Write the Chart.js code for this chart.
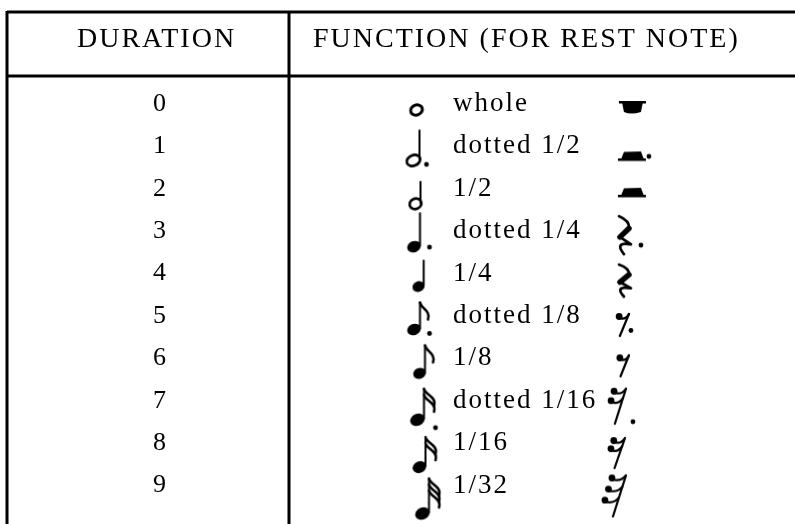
<!DOCTYPE html>
<html>
<head>
<meta charset="utf-8">
<script src="https://cdn.jsdelivr.net/npm/chart.js@4.4.1/dist/chart.umd.min.js"></script>
<style>
  body { margin: 0; background: #fff; }
</style>
</head>
<body>
<canvas id="table1" width="795" height="524"></canvas>
<script>
// table contents
const headers = ['DURATION', 'FUNCTION (FOR REST NOTE)'];
const durations = ['0', '1', '2', '3', '4', '5', '6', '7', '8', '9'];
const functions = ['whole', 'dotted 1/2', '1/2', 'dotted 1/4', '1/4', 'dotted 1/8', '1/8', 'dotted 1/16', '1/16', '1/32'];
const noteValues = [1, 2, 2, 4, 4, 8, 8, 16, 16, 32];
const dotted = [false, true, false, true, false, true, false, true, false, false];

const serif = '"Liberation Serif", "Times New Roman", serif';

// column positions on the hidden x scale
const cols = { note: 131, label: 166, rest: 346 };

// drawing geometry of each glyph, relative to its point
const noteShape = [
    { hx: -2, hy: 6, rx: 6, ry: 5 },
    { hx: -5, hy: 14, rx: 7, ry: 5.2, top: -16, dx: 8, dy: 18 },
    { hx: -3, hy: 15, rx: 6, ry: 5.2, top: -7 },
    { hx: -4.5, hy: 15.5, rx: 7, ry: 5.6, top: -18, dx: 11, dy: 16 },
    { hx: 0, hy: 13, rx: 6.2, ry: 5.2, top: -13 },
    { hx: -4.5, hy: 13.5, rx: 7, ry: 5.6, top: -13.5, dx: 11, dy: 17.5 },
    { hx: 1, hy: 15, rx: 6.5, ry: 5.4, top: -13 },
    { hx: -1, hy: 19, rx: 7.5, ry: 6, top: -12, dx: 17, dy: 27 },
    { hx: 1, hy: 24, rx: 7, ry: 5.8, top: -6 },
    { hx: 4, hy: 28, rx: 7.5, ry: 6, top: -7 }
];
const restShape = [
    { x0: -12, x1: 15, y: -2 },
    { x0: -13, x1: 15, y: 12, dx: 18, dy: 10 },
    { x0: -13, x1: 15, y: 6 },
    { x0: -18, y0: -15, w: 20, h: 38, dx: 10, dy: 14 },
    { x0: -18, y0: -9, w: 20, h: 32 },
    { x0: -16, y0: -2, w: 14, h: 22, dx: 0, dy: 14.5 },
    { x0: -15, y0: -3, w: 13, h: 21 },
    { x0: -22, y0: -12, w: 17, h: 35, dx: 2, dy: 21 },
    { x0: -22, y0: -5, w: 16, h: 30 },
    { x0: -25, y0: -10, w: 20, h: 41 }
];

function makeGlyph(w, h, draw) {
    const c = document.createElement('canvas');
    c.width = w;
    c.height = h;
    const g = c.getContext('2d');
    g.translate(w / 2, h / 2);
    g.fillStyle = '#000';
    g.strokeStyle = '#000';
    g.lineCap = 'round';
    g.lineJoin = 'round';
    draw(g);
    return c;
}

function dot(g, x, y, r) {
    g.beginPath();
    g.arc(x, y, r, 0, Math.PI * 2);
    g.fill();
}

function line(g, x1, y1, x2, y2, lw) {
    g.lineWidth = lw;
    g.beginPath();
    g.moveTo(x1, y1);
    g.lineTo(x2, y2);
    g.stroke();
}

function drawNote(g, i) {
    const s = noteShape[i];
    const v = noteValues[i];
    g.beginPath();
    g.ellipse(s.hx, s.hy, s.rx, s.ry, -0.4, 0, Math.PI * 2);
    if (v >= 4) {
        g.fill();
    } else {
        g.lineWidth = v === 1 ? 3 : 2.7;
        g.stroke();
    }
    if (v >= 2) {
        const sx = s.hx + s.rx - 1;
        line(g, sx, s.top, sx, s.hy - 1, 2);
        const flags = v >= 8 ? Math.log2(v) - 2 : 0;
        const wide = flags > 1 ? 13 : 11;
        for (let k = 0; k < flags; k++) {
            const fy = s.top + k * 6;
            g.lineWidth = 2.5;
            g.beginPath();
            g.moveTo(sx, fy);
            g.bezierCurveTo(sx + 1, fy + 6, sx + wide, fy + 8, sx + wide - 3, fy + 17);
            g.stroke();
        }
    }
    if (dotted[i]) dot(g, s.dx, s.dy, 2.4);
}

function drawRest(g, i) {
    const s = restShape[i];
    const v = noteValues[i];
    if (v === 1) {
        g.fillRect(s.x0, s.y - 1, s.x1 - s.x0, 2.5);
        g.beginPath();
        g.moveTo(s.x0 + 3, s.y);
        g.lineTo(s.x1 - 3, s.y);
        g.lineTo(s.x1 - 5, s.y + 10);
        g.quadraticCurveTo(s.x0 + 12, s.y + 13, s.x0 + 5, s.y + 10);
        g.closePath();
        g.fill();
    } else if (v === 2) {
        g.fillRect(s.x0, s.y, s.x1 - s.x0, 2.5);
        g.beginPath();
        g.moveTo(s.x0 + 3, s.y + 1);
        g.lineTo(s.x0 + 6, s.y - 6.5);
        g.lineTo(s.x1 - 5, s.y - 7);
        g.lineTo(s.x1 - 2, s.y + 1);
        g.closePath();
        g.fill();
    } else if (v === 4) {
        const P = (u, w) => [s.x0 + u * s.w, s.y0 + w * s.h];
        g.lineWidth = 2.6;
        g.beginPath();
        g.moveTo(...P(0.3, 0));
        g.quadraticCurveTo(...P(0.85, 0.12), ...P(0.8, 0.32));
        g.stroke();
        line(g, ...P(0.8, 0.32), ...P(0.35, 0.55), 5.5);
        g.lineWidth = 2.8;
        g.beginPath();
        g.moveTo(...P(0.35, 0.55));
        g.lineTo(...P(0.9, 0.74));
        g.quadraticCurveTo(...P(0.05, 0.66), ...P(0.55, 1));
        g.stroke();
    } else {
        const flags = Math.log2(v) - 2;
        const tx = s.x0 + s.w, ty = s.y0;
        const bx = s.x0 + s.w * 0.35, by = s.y0 + s.h;
        line(g, tx, ty, bx, by, 2.2);
        for (let k = 0; k < flags; k++) {
            const t = k * 0.27;
            const sx = tx + (bx - tx) * t, sy = ty + (by - ty) * t;
            const cx = sx - s.w * 0.7, cy = sy + 2.5;
            dot(g, cx, cy, 3.4);
            g.lineWidth = 2.2;
            g.beginPath();
            g.moveTo(cx, cy + 1.5);
            g.quadraticCurveTo(cx + s.w * 0.45, cy + 4, sx, sy);
            g.stroke();
        }
    }
    if (dotted[i]) dot(g, s.dx, s.dy, 2.4);
}

const noteIcons = durations.map((d, i) => makeGlyph(80, 110, g => drawNote(g, i)));
const restIcons = durations.map((d, i) => makeGlyph(80, 110, g => drawRest(g, i)));

// frame, headings and function names
const tablePlugin = {
    id: 'tableFrame',
    beforeDatasetsDraw(chart) {
        const { ctx, chartArea, scales, width, height } = chart;
        const left = 7;
        ctx.save();
        ctx.fillStyle = '#000';
        ctx.strokeStyle = '#000';
        ctx.lineWidth = 3;
        ctx.beginPath();
        ctx.moveTo(left, 12); ctx.lineTo(width, 12);
        ctx.moveTo(left, 76); ctx.lineTo(width, 76);
        ctx.moveTo(left, 11); ctx.lineTo(left, height);
        ctx.moveTo(chartArea.left, 11); ctx.lineTo(chartArea.left, height);
        ctx.stroke();

        ctx.font = '28px ' + serif;
        ctx.letterSpacing = '2px';
        ctx.textBaseline = 'alphabetic';
        ctx.textAlign = 'left';
        ctx.fillText(headers[0], left + 70, 47);
        ctx.fillText(headers[1], chartArea.left + 24, 47);

        ctx.font = '27px ' + serif;
        ctx.letterSpacing = '2px';
        ctx.textBaseline = 'middle';
        const x = scales.x.getPixelForValue(cols.label);
        functions.forEach((f, i) => {
            ctx.fillText(f, x, scales.y.getPixelForValue(i));
        });
        ctx.restore();
    }
};

const ctx = document.getElementById('table1');
new Chart(ctx, {
    type: 'scatter',
    data: {
        datasets: [{
            data: durations.map(d => ({ x: cols.note, y: d })),
            pointStyle: noteIcons,
            pointRadius: 5,
            clip: false
        }, {
            data: durations.map(d => ({ x: cols.rest, y: d })),
            pointStyle: restIcons,
            pointRadius: 5,
            clip: false
        }]
    },
    options: {
        responsive: false,
        animation: false,
        events: [],
        layout: { padding: { left: 153, top: 104, right: 0, bottom: 38.5 } },
        plugins: { legend: { display: false }, tooltip: { enabled: false } },
        scales: {
            x: { type: 'linear', min: 0, max: 506, display: false },
            y: {
                type: 'category',
                labels: durations,
                offset: false,
                grid: { display: false, drawTicks: false },
                border: { display: false },
                ticks: {
                    color: '#000',
                    font: { family: serif, size: 26 },
                    padding: 0,
                    crossAlign: 'far',
                    autoSkip: false
                },
                afterFit: (s) => { s.width = 136; }
            }
        }
    },
    plugins: [tablePlugin]
});
</script>
</body>
</html>
